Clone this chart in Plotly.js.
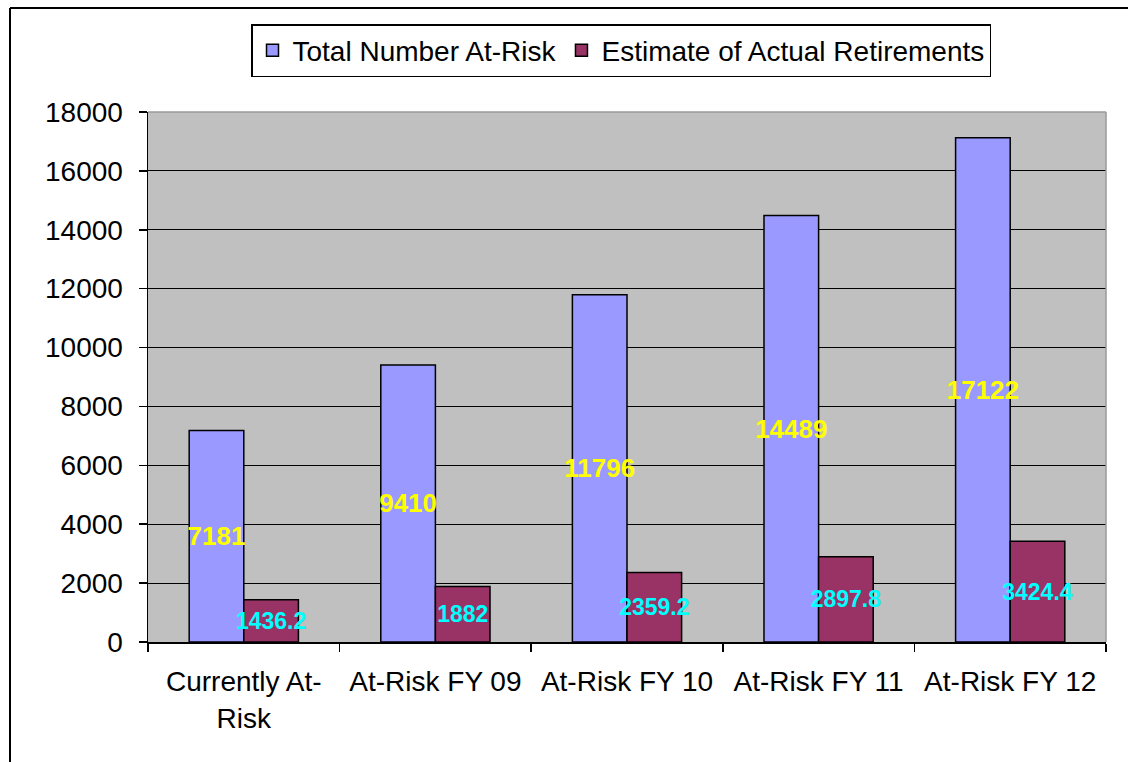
<!DOCTYPE html>
<html>
<head>
<meta charset="utf-8">
<script src="https://cdn.plot.ly/plotly-3.0.1.min.js"></script>
<style>html,body{margin:0;padding:0;background:#fff;}#chart{width:1128px;height:762px;}</style>
</head>
<body>
<div id="chart"></div>
<script>
var categories = ["Currently At-<br>Risk", "At-Risk FY 09", "At-Risk FY 10", "At-Risk FY 11", "At-Risk FY 12"];
var totalAtRisk = [7181, 9410, 11796, 14489, 17122];
var estimatedRetirements = [1436.2, 1882, 2359.2, 2897.8, 3424.4];
var seriesNames = ["Total Number At-Risk", "Estimate of Actual Retirements"];
var yTicks = [0, 2000, 4000, 6000, 8000, 10000, 12000, 14000, 16000, 18000];

var FONT = "Liberation Sans, Arial, sans-serif";

var traces = [
  {
    type: "bar", name: seriesNames[0], x: categories, y: totalAtRisk,
    text: totalAtRisk.map(String), textposition: "inside", insidetextanchor: "middle",
    textangle: 0, constraintext: "none",
    insidetextfont: {family: FONT, size: 26, color: "#FFFF00", weight: "bold"},
    marker: {color: "#9999FF", line: {color: "#000000", width: 1.5}},
    hoverinfo: "skip"
  },
  {
    type: "bar", name: seriesNames[1], x: categories, y: estimatedRetirements,
    text: estimatedRetirements.map(String), textposition: "inside", insidetextanchor: "middle",
    textangle: 0, constraintext: "none",
    insidetextfont: {family: FONT, size: 23, color: "#00FFFF", weight: "bold"},
    marker: {color: "#993366", line: {color: "#000000", width: 1.5}},
    hoverinfo: "skip"
  }
];

var L = 148, R = 22, T = 112, B = 120, W = 1128, H = 762;
var pw = W - L - R, ph = H - T - B;
function px(x) { return (x - L) / pw; }
function py(y) { return (H - B - y) / ph; }

var layout = {
  width: W, height: H,
  margin: {l: L, r: R, t: T, b: B, pad: 0},
  paper_bgcolor: "#FFFFFF",
  plot_bgcolor: "#C0C0C0",
  font: {family: FONT, size: 28, color: "#000000"},
  barmode: "group", bargap: 0.43, bargroupgap: 0,
  showlegend: true,
  legend: {
    orientation: "h", x: px(251), xanchor: "left", y: py(24), yanchor: "top",
    bgcolor: "#FFFFFF", bordercolor: "#000000", borderwidth: 1.5,
    font: {family: FONT, size: 28, color: "#000000"},
    traceorder: "normal", itemwidth: 30
  },
  xaxis: {
    type: "category", tickson: "boundaries", ticks: "outside", ticklen: 8,
    tickcolor: "#000000", tickwidth: 1.5, showline: true, linecolor: "#000000", linewidth: 1.5,
    showgrid: false, ticklabelstandoff: 14,
    tickfont: {family: FONT, size: 28, color: "#000000"}, fixedrange: true
  },
  yaxis: {
    range: [0, 18000], tickvals: yTicks, ticktext: yTicks.map(String),
    ticks: "outside", ticklen: 8, tickcolor: "#000000", tickwidth: 1.5,
    showline: true, linecolor: "#000000", linewidth: 1.5,
    showgrid: true, gridcolor: "#000000", gridwidth: 1.2, zeroline: false,
    ticklabelstandoff: 10,
    tickfont: {family: FONT, size: 28, color: "#000000"}, fixedrange: true
  },
  shapes: [
    {type: "line", xref: "paper", yref: "paper", x0: 0, x1: 1, y0: 1, y1: 1, line: {color: "#9A9A9A", width: 1.5}},
    {type: "line", xref: "paper", yref: "paper", x0: 1, x1: 1, y0: 0, y1: 1, line: {color: "#9A9A9A", width: 1.5}},
    {type: "line", xref: "paper", yref: "paper", x0: px(10), x1: px(10), y0: py(8), y1: py(780), line: {color: "#000000", width: 2}},
    {type: "line", xref: "paper", yref: "paper", x0: px(10), x1: px(1140), y0: py(8), y1: py(8), line: {color: "#000000", width: 2}}
  ]
};

Plotly.newPlot("chart", traces, layout, {displayModeBar: false, staticPlot: true});
</script>
</body>
</html>
